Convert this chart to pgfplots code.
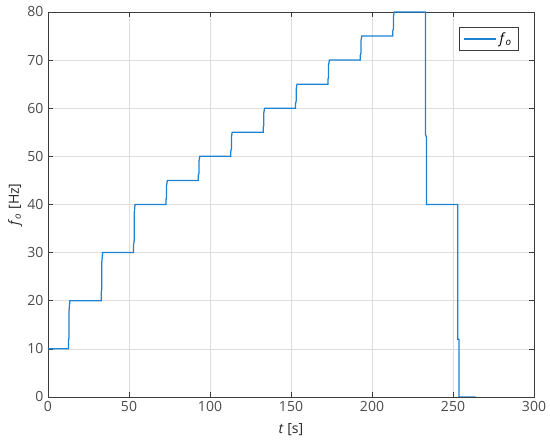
\documentclass[border=0pt]{standalone}
\usepackage{fontspec}
\setmainfont{Open Sans}
\usepackage{pgfplots}
\pgfplotsset{compat=1.18}
\definecolor{mblue}{RGB}{30,130,210}
\definecolor{axgray}{RGB}{60,60,60}
\definecolor{txtgray}{RGB}{75,75,75}

\begin{document}
\begin{tikzpicture}
\begin{axis}[
  scale only axis,
  width  = 364.5pt,
  height = 288.75pt,
  xmin = 0, xmax = 300,
  ymin = 0, ymax = 80,
  xtick = {0,50,...,300},
  ytick = {0,10,...,80},
  xtick pos = both, ytick pos = both,
  tick align = inside,
  major tick length = 4pt,
  tick style = {axgray, line width=0.5pt},
  axis line style = {axgray, line width=0.7pt},
  grid = major,
  grid style = {black!13, line width=0.5pt},
  ticklabel style = {font=\fontsize{10.5}{12}\selectfont, text=txtgray},
  /pgf/number format/assume math mode=true,
  xlabel = {\textit{t} [s]},
  ylabel = {\textit{f}\textsubscript{\textit{o}} [Hz]},
  xlabel style = {yshift=-2pt},
  ylabel style = {yshift=-3pt},
  label style = {font=\fontsize{10.5}{12}\selectfont, text=black!85},
  legend style = {at={(0.969,0.961)}, anchor=north east,
                  draw=axgray, line width=0.6pt, fill=white,
                  font=\fontsize{10.5}{12}\selectfont,
                  inner xsep=3pt, inner ysep=2pt},
  legend cell align = left,
  legend image code/.code={\draw[#1, line width=0.9pt] (0cm,0cm) -- (0.85cm,0cm);},
]
\addplot[mblue, line width=0.95pt] coordinates {
  (0,10) (12.6,10) (12.6,11.5) (13.0,12.5) (13.0,18) (13.5,20)
  (32.8,20) (32.8,21.5) (33.2,22.5) (33.2,28) (33.7,30)
  (52.8,30) (52.8,31.5) (53.2,32.5) (53.2,38) (53.7,40)
  (72.8,40) (72.8,41) (73.2,41.5) (73.2,44) (73.7,45)
  (92.8,45) (92.8,46) (93.2,46.5) (93.2,49) (93.7,50)
  (112.8,50) (112.8,51) (113.2,51.5) (113.2,54) (113.7,55)
  (132.8,55) (132.8,56) (133.2,56.5) (133.2,59) (133.7,60)
  (152.8,60) (152.8,61) (153.2,61.5) (153.2,64) (153.7,65)
  (172.8,65) (172.8,66) (173.2,66.5) (173.2,69) (173.7,70)
  (192.8,70) (192.8,71) (193.2,71.5) (193.2,74) (193.7,75)
  (212.8,75) (212.8,76) (213.2,76.5) (213.2,79) (213.7,80)
  (233.0,80) (233.0,54.5) (233.7,54) (233.7,40)
  (253.0,40) (253.0,12) (253.7,12) (253.7,0) (264,0)
};
\legend{\textit{f}\textsubscript{\textit{o}}}
\end{axis}
\pgfresetboundingbox
\path ([shift={(-36pt,-37.5pt)}]current axis.south west)
  rectangle ([shift={(12pt,9pt)}]current axis.north east);
\end{tikzpicture}
\end{document}
